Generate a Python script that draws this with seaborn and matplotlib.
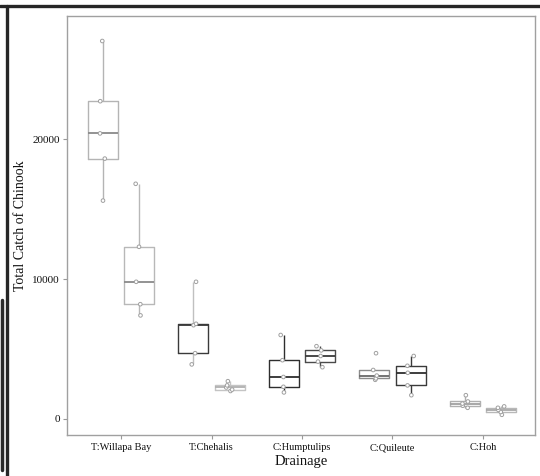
import matplotlib
matplotlib.use("Agg")
import matplotlib.pyplot as plt
from matplotlib.lines import Line2D
import pandas as pd
import seaborn as sns

# Chinook catch by drainage, two periods per drainage
drainages = ["T:Willapa Bay", "T:Chehalis", "C:Humptulips", "C:Quileute", "C:Hoh"]
periods = ["Period 1", "Period 2"]

catch_period1 = [
    [15600, 18600, 20400, 22700, 27000],
    [3900, 4700, 6700, 6800, 9800],
    [1900, 2300, 3000, 4200, 6000],
    [2800, 2900, 3100, 3500, 4700],
    [800, 950, 1100, 1250, 1700],
]
catch_period2 = [
    [7400, 8200, 9800, 12300, 16800],
    [2000, 2100, 2250, 2400, 2700],
    [3700, 4100, 4500, 4900, 5200],
    [1700, 2400, 3300, 3800, 4500],
    [300, 500, 650, 800, 900],
]

y_ticks = [0, 10000, 20000]

rows = []
for period, series in zip(periods, [catch_period1, catch_period2]):
    for name, values in zip(drainages, series):
        for v in values:
            rows.append({"Drainage": name, "Period": period, "Catch": v})
df = pd.DataFrame(rows)

sns.set_theme(style="white")
plt.rcParams["font.family"] = ["Liberation Serif", "DejaVu Serif"]

fig = plt.figure(figsize=(5.4, 4.76), dpi=100)
ax = fig.add_axes([67 / 540, 1 - 435 / 476, (535 - 67) / 540, (435 - 16) / 476])

sns.boxplot(
    data=df, x="Drainage", y="Catch", hue="Period",
    order=drainages, hue_order=periods,
    palette=["#b0b0b0", "#b0b0b0"], fill=False,
    width=0.8, gap=0.17, showcaps=False, showfliers=False,
    linewidth=1.0, legend=False, ax=ax,
)

# per-box outline, median and whisker shades
box_shades = [
    ["#b4b4b4", "#3a3a3a", "#2e2e2e", "#8c8c8c", "#b0b0b0"],
    ["#b8b8b8", "#c4c4c4", "#4a4a4a", "#3a3a3a", "#b8b8b8"],
]
median_shades = [
    ["#8a8a8a", "#3a3a3a", "#2e2e2e", "#6a6a6a", "#a0a0a0"],
    ["#8a8a8a", "#b0b0b0", "#3a3a3a", "#2e2e2e", "#a8a8a8"],
]
whisker_shades = [
    ["#b4b4b4", "#c0c0c0", "#2e2e2e", "#8c8c8c", "#b0b0b0"],
    ["#b8b8b8", "#c4c4c4", "#4a4a4a", "#3a3a3a", "#b8b8b8"],
]
for j, cont in enumerate(ax.containers):
    for i, box in enumerate(cont.boxes):
        box.set_color(box_shades[j][i])
        cont.medians[i].set_color(median_shades[j][i])
        cont.medians[i].set_linewidth(1.3)
        cont.whiskers[2 * i].set_color(whisker_shades[j][i])
        cont.whiskers[2 * i + 1].set_color(whisker_shades[j][i])

sns.stripplot(
    data=df, x="Drainage", y="Catch", hue="Period",
    order=drainages, hue_order=periods,
    palette=["white", "white"], dodge=True, jitter=0.08,
    size=2.6, edgecolor="#a0a0a0", linewidth=0.7, legend=False, ax=ax,
)

ax.set_xlim(-0.597, 4.575)
ax.set_ylim(-1143, 28786)
ax.set_yticks(y_ticks)
ax.set_yticklabels([str(t) for t in y_ticks])
ax.set_xlabel("Drainage", fontsize=10.5, color="#111111", labelpad=2)
ax.set_ylabel("Total Catch of Chinook", fontsize=10, color="#111111", labelpad=4)
ax.tick_params(axis="x", labelsize=7.5, colors="#111111", length=3, width=0.8,
               color="#999999", bottom=True, pad=3)
ax.tick_params(axis="y", labelsize=8, colors="#111111", length=3, width=0.8,
               color="#999999", left=True, pad=2)
for s in ax.spines.values():
    s.set_color("#a0a0a0")
    s.set_linewidth(1.0)

# dark outer frame along top and left edges
fig.add_artist(Line2D([0.0, 1.0], [1 - 6 / 476, 1 - 6 / 476], transform=fig.transFigure,
                      color="#262626", linewidth=2.4))
fig.add_artist(Line2D([7 / 540, 7 / 540], [0.0, 1 - 6 / 476], transform=fig.transFigure,
                      color="#262626", linewidth=2.4))
fig.add_artist(Line2D([1.5 / 540, 1.5 / 540], [1 - 470 / 476, 1 - 300 / 476],
                      transform=fig.transFigure, color="#2a2a2a", linewidth=2.5))

fig.savefig("out.png", dpi=100)
